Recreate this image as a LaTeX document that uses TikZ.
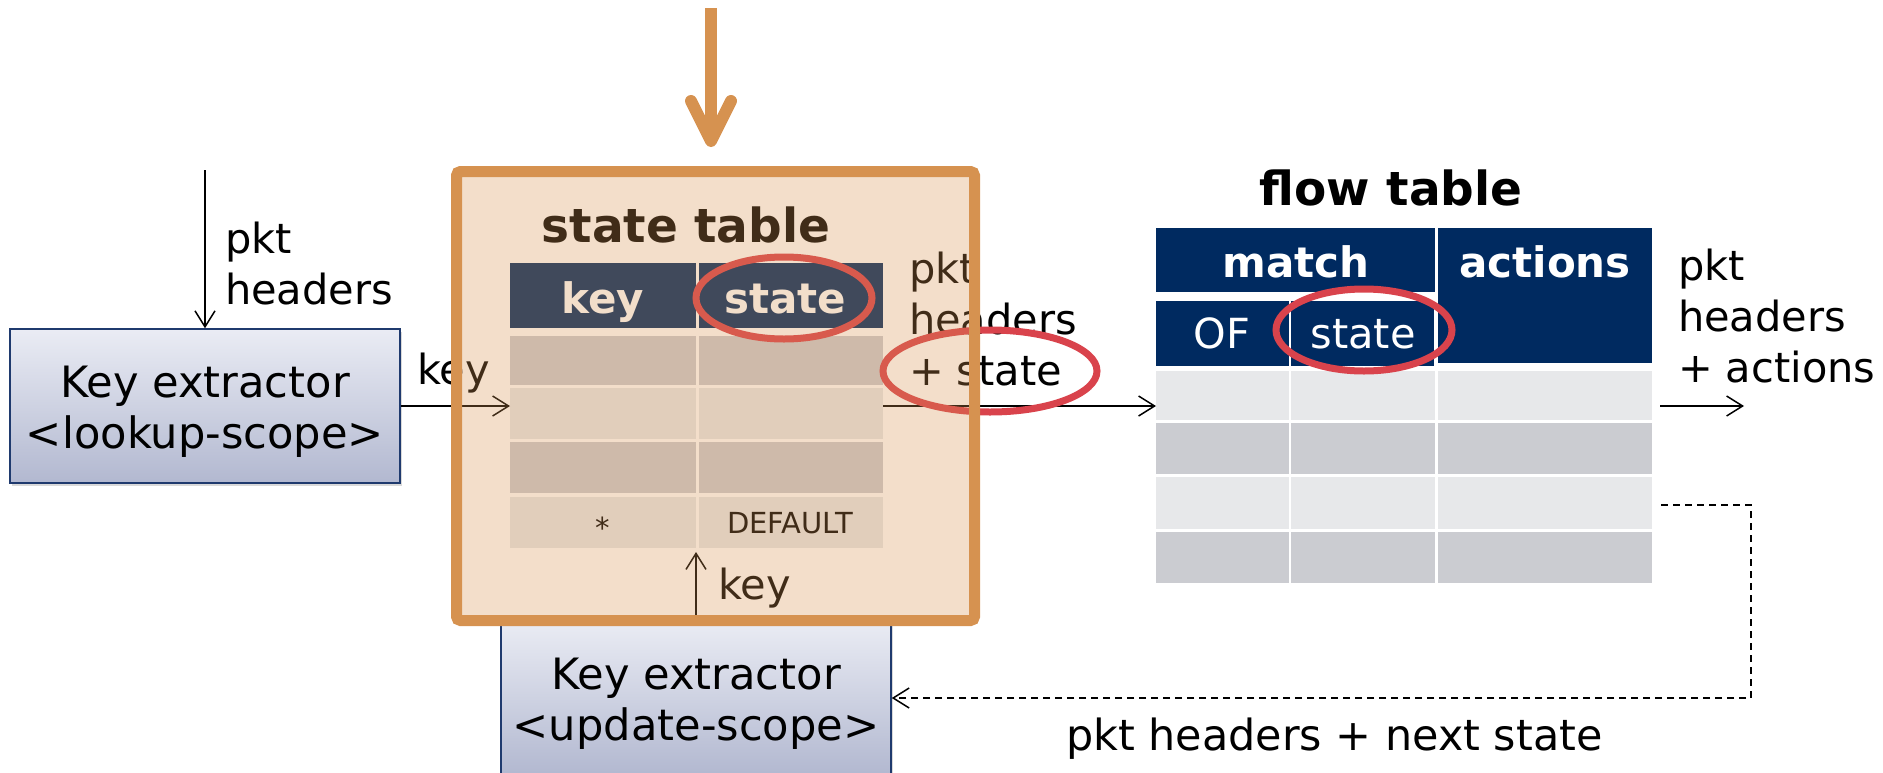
\documentclass[tikz,border=0pt]{standalone}
\usepackage{fontspec}
\setmainfont{DejaVu Sans}
\usetikzlibrary{arrows.meta,shadows}
\definecolor{ocol}{RGB}{214,146,80}
\definecolor{navy}{RGB}{0,42,96}
\definecolor{rowl}{RGB}{231,232,234}
\definecolor{rowd}{RGB}{203,204,209}
\definecolor{redc}{RGB}{217,67,76}
\definecolor{extop}{RGB}{234,236,244}
\definecolor{exbot}{RGB}{178,184,208}
\definecolor{exdraw}{RGB}{31,58,110}
\newcommand\mltl[1]{\begin{tabular}[t]{@{}l@{}}#1\end{tabular}}
\newcommand\mltc[1]{\begin{tabular}[t]{@{}c@{}}#1\end{tabular}}
\begin{document}
\begin{tikzpicture}[x=1pt,y=-1pt,
 txt/.style={font=\fontsize{41.5}{51}\selectfont, inner sep=0, outer sep=0, anchor=base west},
 hdr/.style={font=\fontsize{42}{50}\selectfont\bfseries, text=white, inner sep=0, anchor=base},
 ttl/.style={font=\fontsize{47}{56}\selectfont\bfseries, inner sep=0, anchor=base},
 small/.style={font=\fontsize{29}{35}\selectfont, inner sep=0, anchor=base},
 extractor/.style={draw=exdraw, line width=1.5pt, top color=extop, bottom color=exbot,
   minimum width=390pt, minimum height=154pt, inner sep=0,
   font=\fontsize{43.2}{51}\selectfont, text height=40pt, text depth=58pt,
   drop shadow={shadow xshift=2pt, shadow yshift=-3pt, opacity=0.3}},
 arr/.style={line width=1.5pt, -{Straight Barb[length=16pt,width=20pt,line width=1.5pt]}},
 dsh/.style={line width=2pt, dash pattern=on 7pt off 5pt},
 ring/.style={draw=redc, line width=7pt},
 box/.style={inner sep=0, outer sep=0}]
\useasboundingbox (0,0) rectangle (1883,772);
\clip (0,0) rectangle (1883,772);

% extractors
\node[extractor] (ke1) at (205,406) {\mltc{Key extractor\\<lookup-scope>}};
\node[extractor] (ke2) at (696,698) {\mltc{Key extractor\\<update-scope>}};

% state table
\node[box, minimum width=373pt, minimum height=285pt] (st) at (696.5,405.5) {};
\fill[navy] (510,263) rectangle (696,328);
\fill[navy] (699,263) rectangle (883,328);
\foreach \ya/\yb/\c in {336/385/rowd, 388/439/rowl, 442/493/rowd, 497/548/rowl}{
  \fill[\c] (510,\ya) rectangle (696,\yb);
  \fill[\c] (699,\ya) rectangle (883,\yb);
}
\node[ttl] (stt) at (686,242) {state table};
\node[hdr] (hkey) at (603,313) {key};
\node[hdr] (hstate) at (785,313) {state};
\node[small] (star) at (603,538) {*};
\node[small] (dflt) at (790,533) {DEFAULT};

% flow table
\node[box, minimum width=496pt, minimum height=355pt] (ft) at (1404,405.5) {};
\fill[navy] (1156,228) rectangle (1435,292);
\fill[navy] (1156,301) rectangle (1289,366);
\fill[navy] (1291,301) rectangle (1434,366);
\fill[navy] (1438,228) rectangle (1652,363);
\foreach \ya/\yb/\c in {371/420/rowl, 423/474/rowd, 477/529/rowl, 532/583/rowd}{
  \fill[\c] (1156,\ya) rectangle (1289,\yb);
  \fill[\c] (1291,\ya) rectangle (1435,\yb);
  \fill[\c] (1438,\ya) rectangle (1652,\yb);
}
\node[ttl] (ftt) at (1391,205) {flow table};
\node[hdr] (hmatch) at (1296,277) {match};
\node[hdr] (hact) at (1545,277) {actions};
\node[txt, text=white, anchor=base] (hof) at (1222,348) {OF};
\node[txt, text=white, anchor=base] (hst2) at (1363,348) {state};

% labels
\node[txt] (lpkt) at (225,253) {\mltl{pkt\\headers}};
\node[txt] (lkey) at (417,384) {key};
\node[txt] (lst) at (909,283) {\mltl{pkt\\headers\\+ state}};
\node[txt] (lkey2) at (718,599) {key};
\node[txt] (lact) at (1678,280) {\mltl{pkt\\headers\\+ actions}};
\node[txt, font=\fontsize{42.9}{51}\selectfont] (lnext) at (1066,750) {pkt headers + next state};

% connectors
\coordinate (in1) at (205,170);
\draw[arr] (in1) -- (ke1.north);
\draw[arr] (ke1.east) -- (ke1.east -| st.west);
\draw[arr] (ke1.east -| st.east) -- (ke1.east -| ft.west);
\coordinate (out1) at (1744,406);
\draw[arr] ([xshift=8pt]ke1.east -| ft.east) -- (out1);
\draw[arr] (ke2.north) -- ([yshift=-4pt]ke2.north |- st.south);
\coordinate (fb) at (1661,505);
\coordinate (turn) at (1751,698);
\draw[arr, dsh] (fb) -| (turn) -- (ke2.east);

% top orange arrow
\coordinate (osrc) at (711,8);
\coordinate (otip) at (711,141);
\draw[ocol, line width=12pt] (osrc) -- (otip);
\draw[ocol, line width=12pt, line cap=round, line join=round] (691,101) -- (otip) -- (731,101);

% red rings
\draw[ring] (784,298) ellipse [x radius=88pt, y radius=41pt];
\draw[ring] (990,371) ellipse [x radius=107pt, y radius=41pt];
\draw[ring] (1364,330) ellipse [x radius=88pt, y radius=41pt];

% orange state-table box (translucent fill over contents)
\node[box, draw=ocol, line width=11pt, fill=ocol, fill opacity=0.3, draw opacity=1,
  rounded corners=4pt, minimum width=518pt, minimum height=449pt] (ob) at (715.5,396) {};
\end{tikzpicture}
\end{document}
